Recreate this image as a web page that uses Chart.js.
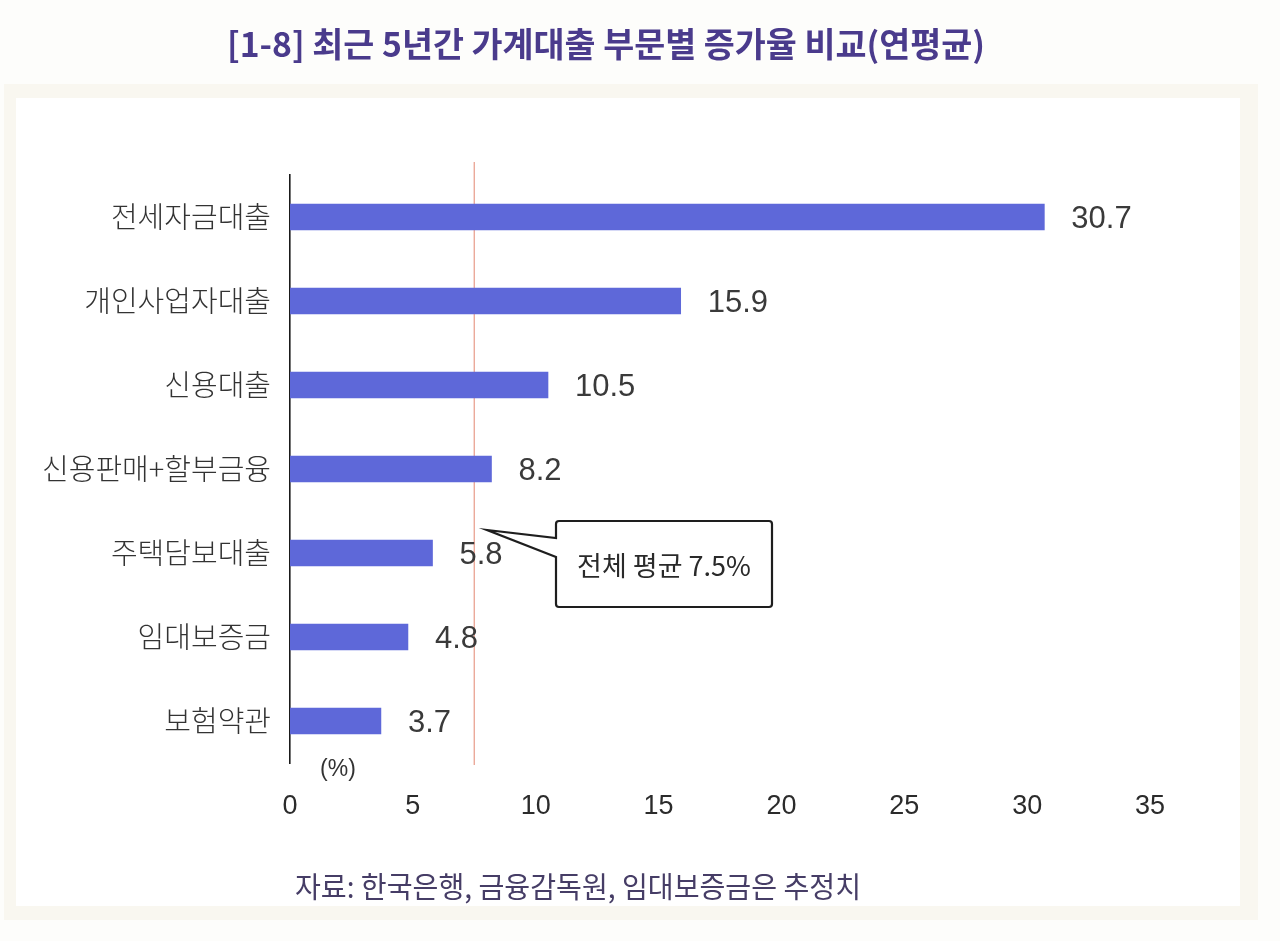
<!DOCTYPE html>
<html>
<head>
<meta charset="utf-8">
<script src="https://cdn.jsdelivr.net/npm/chart.js@4.4.1/dist/chart.umd.min.js"></script>
<style>
html,body{margin:0;padding:0;background:#ffffff;}
#wrap{position:relative;width:1280px;height:941px;}
canvas{display:block;}
</style>
</head>
<body>
<div id="wrap"><canvas id="c" width="1280" height="941"></canvas></div>
<script>
const titleText = "[1-8] 최근 5년간 가계대출 부문별 증가율 비교(연평균)";
const sourceText = "자료: 한국은행, 금융감독원, 임대보증금은 추정치";
const unitText = "(%)";
const categories = ["전세자금대출", "개인사업자대출", "신용대출", "신용판매+할부금융", "주택담보대출", "임대보증금", "보험약관"];
const values = [30.7, 15.9, 10.5, 8.2, 5.8, 4.8, 3.7];
const valueLabels = ["30.7", "15.9", "10.5", "8.2", "5.8", "4.8", "3.7"];
const averageValue = 7.5;
const averageLabel = "전체 평균 7.5%";
const xMin = 0, xMax = 35, xStep = 5;

const KR = "'Noto Sans CJK KR', 'Noto Sans', sans-serif";
const NUM = "'Liberation Sans Narrow', 'Liberation Sans', Arial, sans-serif";

const decor = {
  id: 'decor',
  beforeDraw(chart) {
    const ctx = chart.ctx;
    ctx.save();
    ctx.fillStyle = '#fdfdfb';
    ctx.fillRect(0, 0, chart.width, chart.height);
    ctx.fillStyle = '#f9f7f0';
    ctx.fillRect(4, 84, 1254, 836);
    ctx.fillStyle = '#ffffff';
    ctx.fillRect(16, 98, 1224, 808);
    ctx.restore();
  },
  beforeDatasetsDraw(chart) {
    const ctx = chart.ctx;
    const x = chart.scales.x.getPixelForValue(averageValue);
    ctx.save();
    ctx.strokeStyle = '#eba99a';
    ctx.lineWidth = 1.4;
    ctx.beginPath();
    ctx.moveTo(x, 162);
    ctx.lineTo(x, chart.chartArea.bottom + 2);
    ctx.stroke();
    ctx.restore();
  },
  afterDraw(chart) {
    const ctx = chart.ctx;
    ctx.save();
    // title
    ctx.fillStyle = '#4a3b8c';
    ctx.font = "bold 34px " + KR;
    ctx.textAlign = 'center';
    ctx.textBaseline = 'middle';
    ctx.fillText(titleText, 606, 44, 758);
    // source
    ctx.fillStyle = '#463d66';
    ctx.font = "29px " + KR;
    ctx.fillText(sourceText, 578, 887, 566);
    // unit
    ctx.fillStyle = '#333333';
    ctx.font = "23px " + NUM;
    ctx.fillText(unitText, 338, 770);
    // value labels
    const meta = chart.getDatasetMeta(0);
    ctx.fillStyle = '#3a3a3a';
    ctx.font = "31px " + NUM;
    ctx.textAlign = 'left';
    meta.data.forEach((bar, i) => {
      ctx.fillText(valueLabels[i], bar.x + 27, bar.y + 2);
    });
    // callout
    const bx = 556, by = 521, bw = 216, bh = 86;
    ctx.strokeStyle = '#1e1e1e';
    ctx.lineWidth = 2.2;
    ctx.fillStyle = '#ffffff';
    ctx.beginPath();
    ctx.moveTo(bx + 3, by);
    ctx.lineTo(bx + bw - 3, by);
    ctx.quadraticCurveTo(bx + bw, by, bx + bw, by + 3);
    ctx.lineTo(bx + bw, by + bh - 3);
    ctx.quadraticCurveTo(bx + bw, by + bh, bx + bw - 3, by + bh);
    ctx.lineTo(bx + 3, by + bh);
    ctx.quadraticCurveTo(bx, by + bh, bx, by + bh - 3);
    ctx.lineTo(bx, by + 36);
    ctx.lineTo(487, 530);
    ctx.lineTo(bx, by + 17);
    ctx.lineTo(bx, by + 3);
    ctx.quadraticCurveTo(bx, by, bx + 3, by);
    ctx.closePath();
    ctx.fill();
    ctx.stroke();
    ctx.fillStyle = '#2a2a2a';
    ctx.font = "27px " + KR;
    ctx.textAlign = 'center';
    ctx.fillText(averageLabel, bx + bw / 2, by + bh / 2 + 2, 186);
    ctx.restore();
  }
};

new Chart(document.getElementById('c'), {
  type: 'bar',
  data: {
    labels: categories,
    datasets: [{
      data: values,
      backgroundColor: '#5e68d9',
      borderWidth: 0,
      barThickness: 26
    }]
  },
  options: {
    indexAxis: 'y',
    responsive: false,
    animation: false,
    devicePixelRatio: 1,
    layout: { padding: { left: 0, right: 130, top: 175, bottom: 0 } },
    plugins: { legend: { display: false }, tooltip: { enabled: false }, title: { display: false } },
    scales: {
      x: {
        min: xMin, max: xMax,
        grid: { display: false },
        border: { display: false },
        ticks: { stepSize: xStep, color: '#2b2b2b', padding: 19, font: { size: 27, family: NUM } },
        afterFit(s) { s.height = 178; }
      },
      y: {
        grid: { display: false, drawTicks: false },
        border: { display: true, color: '#1a1a1a', width: 1.6 },
        ticks: { color: '#333333', padding: 19, font: { size: 29, family: KR, weight: '300' } },
        afterFit(s) { s.width = 290; }
      }
    }
  },
  plugins: [decor]
});
</script>
</body>
</html>
